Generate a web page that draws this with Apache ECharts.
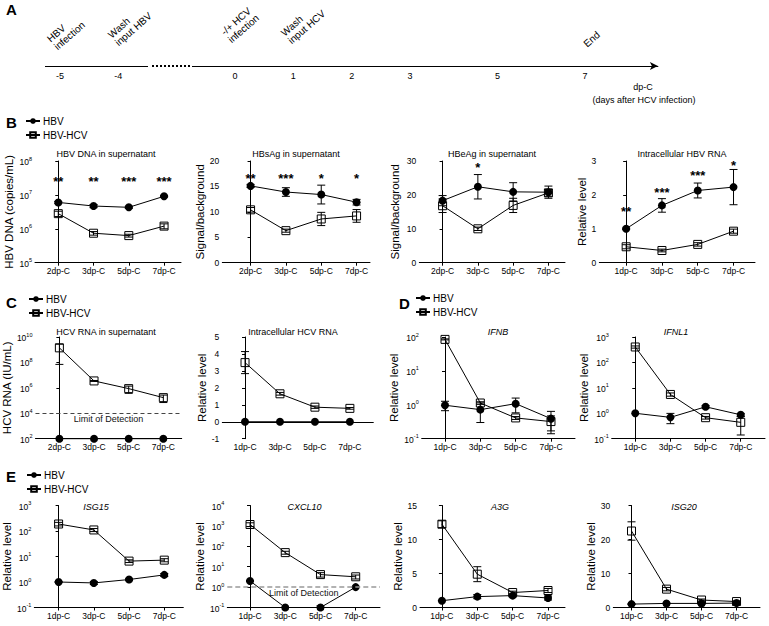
<!DOCTYPE html>
<html><head><meta charset="utf-8">
<script src="https://cdn.jsdelivr.net/npm/echarts@6/dist/echarts.min.js"></script>
<style>html,body{margin:0;padding:0;background:#fff}#c{width:769px;height:626px}</style>
</head><body><div id="c"></div>
<script>
// ---------------- DATA ----------------
// Timeline (panel A)
const tlLabels = ['-5','','-4','','','','0','','1','','2','','3','','','5','','','7','',''];
const tlEvents = ['HBV\ninfection','Wash\ninput HBV','-/+ HCV\ninfection','Wash\ninput HCV','End'];

const catsB = ['2dp-C','3dp-C','5dp-C','7dp-C'];
const catsR = ['1dp-C','3dp-C','5dp-C','7dp-C'];

// Panel B
const hbvDnaHBV = [6.0e6, 4.7e6, 4.3e6, 9.1e6];
const hbvDnaHBVerr = [0.4e6, 0.5e6, 0.3e6, 0.5e6];
const hbvDnaHCV = [2.8e6, 7.4e5, 6.3e5, 1.2e6];
const hbvDnaHCVerr = [0.5e6, 0.9e5, 0.6e5, 0.2e6];
const starsDna = ['**','**','***','***'];
const starAtDna = [2.5e7, 2.5e7, 2.5e7, 2.5e7];

const hbsagHBV = [15.1, 13.9, 13.4, 11.9];
const hbsagHBVerr = [0.3, 0.85, 1.85, 0.55];
const hbsagHCV = [10.4, 6.3, 8.6, 9.2];
const hbsagHCVerr = [0.45, 0.3, 1.3, 1.25];
const starsHbsag = ['**','***','*','*'];
const starAtHbsag = [16.6, 16.6, 16.6, 16.6];

const hbeagHBV = [18.3, 22.4, 20.9, 20.8];
const hbeagHBVerr = [1.5, 3.6, 2.7, 1.8];
const hbeagHCV = [16.8, 10.0, 16.9, 20.6];
const hbeagHCVerr = [2.0, 0.5, 2.1, 1.0];
const starsHbeag = ['','*','',''];
const starAtHbeag = [28.2, 28.2, 28.2, 28.2];

const hbvRnaHBV = [1.0, 1.69, 2.13, 2.23];
const hbvRnaHBVerr = [0.02, 0.2, 0.22, 0.52];
const hbvRnaHCV = [0.47, 0.36, 0.54, 0.93];
const hbvRnaHCVerr = [0.06, 0.04, 0.05, 0.06];
const starsRna = ['**','***','***','*'];
const starAtRna = [1.5, 2.08, 2.56, 2.88];

// Panel C
const hcvSupHBV = [100, 100, 100, 100];
const hcvSupHBVerr = [0, 0, 0, 0];
const hcvSupHCV = [1.4e9, 3.5e6, 8.7e5, 1.7e5];
const hcvSupHCVerr = [1.33e9, 0.3e6, 5e5, 1e5];
const hcvLOD = 1e4;

const hcvIntraHBV = [0, 0, 0, 0];
const hcvIntraHBVerr = [0, 0, 0, 0];
const hcvIntraHCV = [3.49, 1.65, 0.86, 0.79];
const hcvIntraHCVerr = [0.65, 0.08, 0.07, 0.05];

// Panel D
const ifnbHBV = [0.97, 0.72, 1.08, 0.39];
const ifnbHBVerr = [0.3, 0.42, 0.5, 0.25];
const ifnbHCV = [85, 1.13, 0.41, 0.32];
const ifnbHCVerr = [3, 0.1, 0.04, 0.15];

const ifnl1HBV = [1.0, 0.69, 1.8, 0.87];
const ifnl1HBVerr = [0.02, 0.3, 0.2, 0.1];
const ifnl1HCV = [405, 5.5, 0.67, 0.44];
const ifnl1HCVerr = [40, 0.8, 0.08, 0.3];

// Panel E
const isg15HBV = [1.0, 0.92, 1.25, 1.9];
const isg15HBVerr = [0.03, 0.12, 0.1, 0.25];
const isg15HCV = [188, 110, 6.6, 7.2];
const isg15HCVerr = [30, 15, 0.8, 1.0];

const cxcl10HBV = [2.0, 0.1, 0.1, 1.0];
const cxcl10HBVerr = [0.1, 0, 0.02, 0.05];
const cxcl10HCV = [1170, 49, 4.1, 3.2];
const cxcl10HCVerr = [250, 8, 1, 0.7];
const cxcl10LOD = 1;

const a3gHBV = [1.0, 1.6, 1.75, 1.4];
const a3gHBVerr = [0.05, 0.3, 0.2, 0.3];
const a3gHCV = [12.25, 4.9, 2.2, 2.5];
const a3gHCVerr = [0.5, 1.1, 0.2, 0.3];

const isg20HBV = [1.0, 1.2, 1.2, 1.3];
const isg20HBVerr = [0.1, 0.1, 0.2, 0.2];
const isg20HCV = [22.5, 5.4, 2.2, 1.75];
const isg20HCVerr = [2.7, 0.5, 0.3, 0.2];

// ---------------- LAYOUT ----------------
const FONT = '"Liberation Sans", Arial, Helvetica, sans-serif';
const rowB = {top: 161, height: 101.7}, rowC = {top: 337, height: 101.7}, rowE = {top: 505.5, height: 102};

const plots = [
  {cats: catsB, hbv: hbvDnaHBV, hbvErr: hbvDnaHBVerr, hcv: hbvDnaHCV, hcvErr: hbvDnaHCVerr,
   title: 'HBV DNA in supernatant', tx: 106, ty: 154, yName: 'HBV DNA (copies/mL)', nameGap: 20,
   y: {type: 'log', min: 1e5, max: 1e8, interval: 1}, left: 35, width: 146, row: rowB, xr: [-0.66, 3.48],
   stars: starsDna, starAt: starAtDna},
  {cats: catsB, hbv: hbsagHBV, hbvErr: hbsagHBVerr, hcv: hbsagHCV, hcvErr: hbsagHCVerr,
   title: 'HBsAg in supernatant', tx: 296, ty: 154, yName: 'Signal/background', nameGap: 12,
   y: {type: 'value', min: 0, max: 20, interval: 5}, left: 222.3, width: 147.7, row: rowB, xr: [-0.8, 3.38],
   stars: starsHbsag, starAt: starAtHbsag},
  {cats: catsB, hbv: hbeagHBV, hbvErr: hbeagHBVerr, hcv: hbeagHCV, hcvErr: hbeagHCVerr,
   title: 'HBeAg in supernatant', tx: 492, ty: 154, yName: 'Signal/background', nameGap: 18,
   y: {type: 'value', min: 0, max: 30, interval: 10}, left: 419.3, width: 145.7, row: rowB, xr: [-0.66, 3.47],
   stars: starsHbeag, starAt: starAtHbeag},
  {cats: catsR, hbv: hbvRnaHBV, hbvErr: hbvRnaHBVerr, hcv: hbvRnaHCV, hcvErr: hbvRnaHCVerr,
   title: 'Intracellular HBV RNA', tx: 682, ty: 154, yName: 'Relative level', nameGap: 9,
   y: {type: 'value', min: 0, max: 3, interval: 1}, left: 599.3, width: 155.7, row: rowB, xr: [-0.75, 3.6],
   stars: starsRna, starAt: starAtRna},
  {cats: catsB, hbv: hcvSupHBV, hbvErr: hcvSupHBVerr, hcv: hcvSupHCV, hcvErr: hcvSupHCVerr,
   title: 'HCV RNA in supernatant', tx: 106, ty: 332, yName: 'HCV RNA (IU/mL)', nameGap: 20,
   y: {type: 'log', min: 1e2, max: 1e10, interval: 2}, left: 34.3, width: 147.4, row: rowC, xr: [-0.69, 3.53],
   lod: hcvLOD, lodStyle: {color: '#444', width: 1, type: [4, 3]}},
  {cats: catsR, hbv: hcvIntraHBV, hbvErr: hcvIntraHBVerr, hcv: hcvIntraHCV, hcvErr: hcvIntraHCVerr,
   title: 'Intracellular HCV RNA', tx: 293, ty: 332, yName: 'Relative level', nameGap: 12,
   y: {type: 'value', min: -1, max: 5, interval: 1}, left: 222.3, width: 151, row: rowC, xr: [-0.65, 3.67]},
  {cats: catsR, hbv: ifnbHBV, hbvErr: ifnbHBVerr, hcv: ifnbHCV, hcvErr: ifnbHCVerr,
   title: 'IFNB', italic: true, tx: 498, ty: 332, yName: 'Relative level', nameGap: 16,
   y: {type: 'log', min: 0.1, max: 100, interval: 1}, left: 421.7, width: 153.3, row: rowC, xr: [-0.66, 3.68]},
  {cats: catsR, hbv: ifnl1HBV, hbvErr: ifnl1HBVerr, hcv: ifnl1HCV, hcvErr: ifnl1HCVerr,
   title: 'IFNL1', italic: true, tx: 676, ty: 332, yName: 'Relative level', nameGap: 16,
   y: {type: 'log', min: 0.1, max: 1000, interval: 1}, left: 611.7, width: 153.3, row: rowC, xr: [-0.67, 3.69]},
  {cats: catsR, hbv: isg15HBV, hbvErr: isg15HBVerr, hcv: isg15HCV, hcvErr: isg15HCVerr,
   title: 'ISG15', italic: true, tx: 96, ty: 507, yName: 'Relative level', nameGap: 19,
   y: {type: 'log', min: 0.1, max: 1000, interval: 1}, left: 34.3, width: 149, row: rowE, xr: [-0.69, 3.54]},
  {cats: catsR, hbv: cxcl10HBV, hbvErr: cxcl10HBVerr, hcv: cxcl10HCV, hcvErr: cxcl10HCVerr,
   title: 'CXCL10', italic: true, tx: 304.5, ty: 507, yName: 'Relative level', nameGap: 19,
   y: {type: 'log', min: 0.1, max: 1e4, interval: 1}, left: 227.3, width: 152.7, row: rowE, xr: [-0.645, 3.69],
   lod: cxcl10LOD, lodStyle: {color: '#999', width: 1.5, type: [5, 3]}},
  {cats: catsR, hbv: a3gHBV, hbvErr: a3gHBVerr, hcv: a3gHCV, hcvErr: a3gHCVerr,
   title: 'A3G', italic: true, tx: 500, ty: 507, yName: 'Relative level', nameGap: 13,
   y: {type: 'value', min: 0, max: 15, interval: 5}, left: 420, width: 145, row: rowE, xr: [-0.62, 3.48]},
  {cats: catsR, hbv: isg20HBV, hbvErr: isg20HBVerr, hcv: isg20HCV, hcvErr: isg20HCVerr,
   title: 'ISG20', italic: true, tx: 684, ty: 507, yName: 'Relative level', nameGap: 13,
   y: {type: 'value', min: 0, max: 30, interval: 10}, left: 613.3, width: 146.7, row: rowE, xr: [-0.52, 3.67]}
];

// anchor points (lower-left start of rotated event labels)
const eventAnchors = [[52, 44], [113, 40], [226, 37], [286, 38], [585, 45]];

// ---------------- BUILD ----------------
const option = {
  animation: false,
  backgroundColor: '#fff',
  textStyle: {fontFamily: FONT},
  grid: [], xAxis: [], yAxis: [], series: [], legend: [], graphic: []
};

// timeline grid
option.grid.push({left: 45.4, top: 65, width: 612.5, height: 1});
option.xAxis.push({
  gridIndex: 0, type: 'category', position: 'bottom', data: tlLabels, boundaryGap: true,
  axisLine: {lineStyle: {color: '#000', width: 1}, symbol: ['none', 'arrow'], symbolSize: [6, 8]},
  axisTick: {alignWithLabel: true, inside: true, length: 5, interval: (i, v) => v !== '', lineStyle: {color: '#000'}},
  axisLabel: {interval: 0, fontSize: 9, color: '#000', margin: 5}
});
option.yAxis.push({gridIndex: 0, type: 'value', show: false});

function logFmt(v) {
  const e = Math.round(Math.log10(v));
  return '{b|10}{s|' + e + '}';
}
const logRich = {
  b: {fontSize: 8.5, lineHeight: 11, verticalAlign: 'bottom', color: '#000'},
  s: {fontSize: 5.5, lineHeight: 6, padding: [0, 0, 6, 0], verticalAlign: 'top', color: '#000'}
};

function errRender(params, api) {
  const x = api.value(0), lo = api.value(1), hi = api.value(2);
  const a = api.coord([x, hi]), b = api.coord([x, lo]);
  if (Math.abs(a[1] - b[1]) < 0.6) return;
  const w = 4, st = {stroke: '#000', lineWidth: 1, fill: null};
  return {type: 'group', children: [
    {type: 'line', shape: {x1: a[0], y1: a[1], x2: b[0], y2: b[1]}, style: st},
    {type: 'line', shape: {x1: a[0] - w, y1: a[1], x2: a[0] + w, y2: a[1]}, style: st},
    {type: 'line', shape: {x1: b[0] - w, y1: b[1], x2: b[0] + w, y2: b[1]}, style: st}
  ]};
}

plots.forEach((p, k) => {
  const gi = k + 1, xi = k + 1, yi = k + 1;
  option.grid.push({left: p.left, width: p.width, top: p.row.top, height: p.row.height});
  option.xAxis.push({
    gridIndex: gi, type: 'value', min: p.xr[0], max: p.xr[1],
    axisLine: {show: true, lineStyle: {color: '#000', width: 1}},
    axisTick: {show: true, customValues: [0, 1, 2, 3], length: 3, lineStyle: {color: '#000'}},
    axisLabel: {customValues: [0, 1, 2, 3], formatter: v => p.cats[Math.round(v)] || '', fontSize: 8.5, color: '#000', margin: 4},
    splitLine: {show: false}
  });
  const ya = {
    gridIndex: gi, type: p.y.type, min: p.y.min, max: p.y.max, interval: p.y.interval,
    name: p.yName, nameLocation: 'middle', nameGap: p.nameGap,
    nameTextStyle: {fontSize: 11.5, color: '#000'},
    axisLine: {show: true, lineStyle: {color: '#000', width: 1}},
    axisTick: {show: true, length: 3, lineStyle: {color: '#000'}},
    axisLabel: {fontSize: 8.5, color: '#000', margin: 3},
    splitLine: {show: false}
  };
  if (p.y.type === 'log') {
    ya.logBase = 10;
    ya.axisLabel.formatter = logFmt;
    ya.axisLabel.rich = logRich;
  }
  option.yAxis.push(ya);

  const errData = (vals, errs) => vals.map((v, i) => {
    let lo = v - errs[i], hi = v + errs[i];
    if (lo < p.y.min) lo = p.y.min;
    if (hi > p.y.max) hi = p.y.max;
    return [i, lo, hi];
  });

  option.series.push({
    type: 'custom', name: 'errHBV', xAxisIndex: xi, yAxisIndex: yi, renderItem: errRender,
    data: errData(p.hbv, p.hbvErr), encode: {x: 0, y: [1, 2]}, clip: false, z: 2, silent: true
  });
  option.series.push({
    type: 'custom', name: 'errHCV', xAxisIndex: xi, yAxisIndex: yi, renderItem: errRender,
    data: errData(p.hcv, p.hcvErr), encode: {x: 0, y: [1, 2]}, clip: false, z: 2, silent: true
  });
  const hbvSeries = {
    type: 'line', name: 'HBV', xAxisIndex: xi, yAxisIndex: yi,
    data: p.hbv.map((v, i) => [i, v]), symbol: 'circle', symbolSize: 8,
    itemStyle: {color: '#000'}, lineStyle: {color: '#000', width: 1}, clip: false, z: 3, silent: true
  };
  const hcvSeries = {
    type: 'line', name: 'HBV-HCV', xAxisIndex: xi, yAxisIndex: yi,
    data: p.hcv.map((v, i) => [i, v]), symbol: 'rect', symbolSize: 8,
    itemStyle: {color: 'rgba(255,255,255,0)', borderColor: '#000', borderWidth: 1},
    lineStyle: {color: '#000', width: 1}, clip: false, z: 3, silent: true
  };
  if (p.lod !== undefined) {
    hcvSeries.markLine = {
      silent: true, symbol: ['none', 'none'], animation: false,
      lineStyle: p.lodStyle,
      label: {show: true, position: 'insideMiddleBottom', formatter: 'Limit of Detection', fontSize: 9, color: '#111', distance: 1},
      data: [{yAxis: p.lod}]
    };
  }
  option.series.push(hbvSeries, hcvSeries);

  if (p.stars) {
    const stars = p.stars;
    option.series.push({
      type: 'custom', name: 'stars', xAxisIndex: xi, yAxisIndex: yi,
      data: p.starAt.map((v, i) => [i, v]), encode: {x: 0, y: 1}, clip: false, z: 4, silent: true,
      renderItem: (params, api) => {
        const c = api.coord([api.value(0), api.value(1)]);
        return {type: 'text', x: c[0], y: c[1], style: {
          text: stars[params.dataIndex], fill: '#000', font: 'bold 13px ' + FONT,
          align: 'center', verticalAlign: 'middle', textAlign: 'center', textVerticalAlign: 'middle'}};
      }
    });
  }

  option.graphic.push({
    type: 'text', x: p.tx, y: p.ty, z: 10, silent: true,
    style: {text: p.title, fill: '#000', font: (p.italic ? 'italic ' : '') + '9px ' + FONT,
      align: 'center', verticalAlign: 'middle', textAlign: 'center', textVerticalAlign: 'middle'}
  });
});

// legends
const legBase = {data: ['HBV', 'HBV-HCV'], orient: 'vertical', itemWidth: 14, itemHeight: 7, itemGap: 4, padding: 0,
  textStyle: {fontSize: 10, color: '#000', padding: [0, 0, 0, -2]}, selectedMode: false};
option.legend.push(Object.assign({}, legBase, {left: 25, top: 116}));
option.legend.push(Object.assign({}, legBase, {left: 28, top: 294}));
option.legend.push(Object.assign({}, legBase, {left: 415, top: 293}));
option.legend.push(Object.assign({}, legBase, {left: 26, top: 470}));

// panel letters and timeline texts
const letter = (t, x, y) => ({type: 'text', x, y, z: 10, silent: true,
  style: {text: t, fill: '#000', font: 'bold 15px ' + FONT, align: 'left', verticalAlign: 'middle', textAlign: 'left', textVerticalAlign: 'middle'}});
option.graphic.push(letter('A', 6, 9), letter('B', 6, 122), letter('C', 6, 302), letter('D', 399, 303), letter('E', 6, 476));
const small = (t, x, y) => ({type: 'text', x, y, z: 10, silent: true,
  style: {text: t, fill: '#000', font: '9px ' + FONT, align: 'center', verticalAlign: 'middle', textAlign: 'center', textVerticalAlign: 'middle'}});
option.graphic.push(small('dp-C', 643, 87), small('(days after HCV infection)', 644, 100));
tlEvents.forEach((t, i) => {
  option.graphic.push({type: 'text', x: eventAnchors[i][0], y: eventAnchors[i][1], rotation: 0.72, z: 10, silent: true,
    style: {text: t, fill: '#000', font: '10px ' + FONT, lineHeight: 10.5, align: 'left', verticalAlign: 'middle', textAlign: 'left', textVerticalAlign: 'middle'}});
});
// dotted break on timeline
option.graphic.push({type: 'rect', z: 50, silent: true, shape: {x: 148, y: 62, width: 44, height: 8}, style: {fill: '#fff'}});
option.graphic.push({type: 'line', z: 51, silent: true, shape: {x1: 152, y1: 66, x2: 190, y2: 66},
  style: {stroke: '#000', lineWidth: 2, lineDash: [2, 2]}});

const chart = echarts.init(document.getElementById('c'), null, {renderer: 'svg', width: 769, height: 626});
chart.setOption(option);
</script>
</body></html>
